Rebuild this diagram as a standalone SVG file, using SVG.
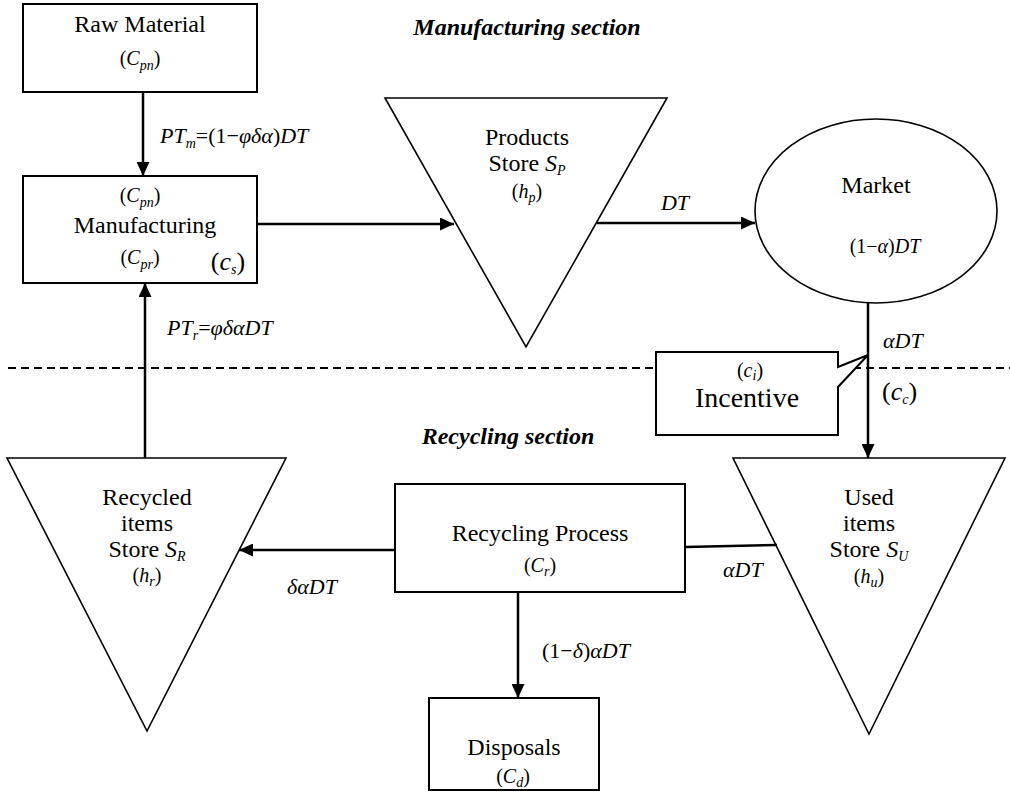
<svg xmlns="http://www.w3.org/2000/svg" width="1010" height="799" viewBox="0 0 1010 799">
<style>
.m{font-size:24px;text-anchor:middle}
.s{font-size:20px;text-anchor:middle}
.l{font-size:22px;font-style:italic}
.i{font-style:italic}
.sub{font-style:italic;font-size:14px}
.title{font-size:24px;font-weight:bold;font-style:italic;text-anchor:middle}
.box{fill:#fff;stroke:#000;stroke-width:2}
.tri{fill:#fff;stroke:#000;stroke-width:1.6}
.con{fill:none;stroke:#000;stroke-width:2.5}
</style>
<defs>
<marker id="ah" markerUnits="userSpaceOnUse" markerWidth="14" markerHeight="13" refX="14" refY="6.5" orient="auto">
<path d="M0,0 L14,6.5 L0,13 z" fill="#000"/>
</marker>
</defs>
<rect width="1010" height="799" fill="#fff"/>
<g font-family="Liberation Serif, Times New Roman, Times, serif" fill="#000">
<line x1="8" y1="368" x2="1010" y2="368" stroke="#000" stroke-width="2" stroke-dasharray="8,5"/>
<text class="title" x="527" y="35">Manufacturing section</text>
<text class="title" x="508" y="444">Recycling section</text>

<g id="raw">
<rect class="box" x="23" y="4" width="234" height="88"/>
<text class="m" x="140" y="32">Raw Material</text>
<text class="s" x="140" y="65">(<tspan class="i">C</tspan><tspan class="sub" dy="5">pn</tspan><tspan dy="-5">)</tspan></text>
</g>

<g id="manufacturing">
<rect class="box" x="23" y="176" width="234" height="107"/>
<text class="s" x="140" y="202">(<tspan class="i">C</tspan><tspan class="sub" dy="5">pn</tspan><tspan dy="-5">)</tspan></text>
<text class="m" x="145" y="233">Manufacturing</text>
<text class="s" x="140" y="264">(<tspan class="i">C</tspan><tspan class="sub" dy="5">pr</tspan><tspan dy="-5">)</tspan></text>
<text x="228" y="270" font-size="26" text-anchor="middle">(<tspan class="i">c</tspan><tspan class="sub" font-size="17" dy="4">s</tspan><tspan dy="-4">)</tspan></text>
</g>

<g id="products">
<polygon class="tri" points="385,98 667,98 526,347"/>
<text class="m" x="527" y="145">Products</text>
<text class="m" x="527" y="171">Store <tspan class="i">S</tspan><tspan class="sub" font-size="16" dy="4">P</tspan></text>
<text class="s" x="527" y="198">(<tspan class="i">h</tspan><tspan class="sub" dy="4">p</tspan><tspan dy="-4">)</tspan></text>
</g>

<g id="market">
<ellipse cx="876" cy="211" rx="121" ry="92" fill="#fff" stroke="#000" stroke-width="1.6"/>
<text class="m" x="876" y="193">Market</text>
<text class="s" x="885" y="253">(1−<tspan class="i">α</tspan>)<tspan class="i">DT</tspan></text>
</g>

<g id="incentive">
<path d="M656,352 H838 V367 L868,355 L838,387 V435 H656 Z" fill="#fff" stroke="#000" stroke-width="2"/>
<text class="s" x="750" y="377">(<tspan class="i">c</tspan><tspan class="sub" dy="3">i</tspan><tspan dy="-3">)</tspan></text>
<text x="747" y="407" font-size="28" text-anchor="middle">Incentive</text>
</g>

<g id="recycled">
<polygon class="tri" points="7,458 286,458 147,731"/>
<text class="m" x="147" y="505">Recycled</text>
<text class="m" x="147" y="531">items</text>
<text class="m" x="147" y="557">Store <tspan class="i">S</tspan><tspan class="sub" font-size="16" dy="4">R</tspan></text>
<text class="s" x="147" y="582">(<tspan class="i">h</tspan><tspan class="sub" dy="4">r</tspan><tspan dy="-4">)</tspan></text>
</g>

<g id="used">
<polygon class="tri" points="733,458 1005,458 869,734"/>
<text class="m" x="869" y="505">Used</text>
<text class="m" x="869" y="531">items</text>
<text class="m" x="869" y="557">Store <tspan class="i">S</tspan><tspan class="sub" font-size="16" dy="4">U</tspan></text>
<text class="s" x="869" y="583">(<tspan class="i">h</tspan><tspan class="sub" dy="4">u</tspan><tspan dy="-4">)</tspan></text>
</g>

<g id="recycling">
<rect class="box" x="395" y="484" width="290" height="108"/>
<text class="m" x="540" y="541">Recycling Process</text>
<text class="s" x="540" y="572">(<tspan class="i">C</tspan><tspan class="sub" dy="4">r</tspan><tspan dy="-4">)</tspan></text>
</g>

<g id="disposals">
<rect class="box" x="429" y="698" width="170" height="92"/>
<text class="m" x="514" y="755">Disposals</text>
<text class="s" x="513" y="783">(<tspan class="i">C</tspan><tspan class="sub" dy="4">d</tspan><tspan dy="-4">)</tspan></text>
</g>

<g id="connectors">
<line class="con" x1="143" y1="92" x2="143" y2="176" marker-end="url(#ah)"/>
<line class="con" x1="257" y1="224" x2="454" y2="224" marker-end="url(#ah)"/>
<line class="con" x1="597" y1="223" x2="755" y2="223" marker-end="url(#ah)"/>
<line class="con" x1="868" y1="303" x2="868" y2="458" marker-end="url(#ah)"/>
<line class="con" x1="145" y1="458" x2="145" y2="283" marker-end="url(#ah)"/>
<line class="con" x1="395" y1="550" x2="239" y2="550" marker-end="url(#ah)"/>
<line class="con" x1="685" y1="547" x2="777" y2="545"/>
<line class="con" x1="518" y1="592" x2="518" y2="698" marker-end="url(#ah)"/>
<text class="l" x="160" y="143">PT<tspan class="sub" font-size="16" dy="5">m</tspan><tspan font-style="normal" dy="-5">=(1−</tspan>φδα<tspan font-style="normal">)</tspan>DT</text>
<text class="l" x="167" y="335">PT<tspan class="sub" font-size="16" dy="5">r</tspan><tspan font-style="normal" dy="-5">=</tspan>φδαDT</text>
<text class="l" x="675" y="210" text-anchor="middle">DT</text>
<text class="l" x="883" y="348">αDT</text>
<text x="882" y="400" font-size="26">(<tspan class="i">c</tspan><tspan class="sub" font-size="17" dy="4">c</tspan><tspan dy="-4">)</tspan></text>
<text class="l" x="287" y="594">δαDT</text>
<text class="l" x="723" y="577">αDT</text>
<text class="l" x="542" y="658"><tspan font-style="normal">(1−</tspan>δ<tspan font-style="normal">)</tspan>αDT</text>
</g>
</g>
</svg>
